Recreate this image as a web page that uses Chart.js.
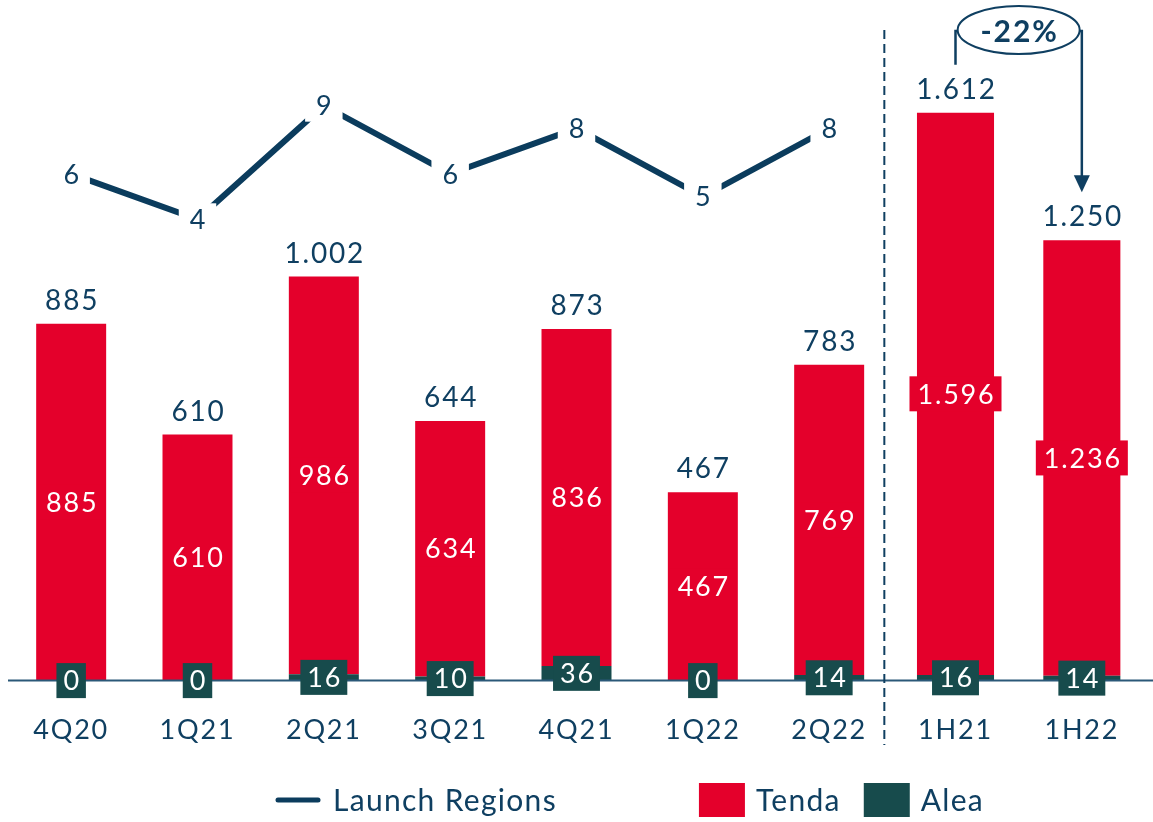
<!DOCTYPE html>
<html><head><meta charset="utf-8">
<script src="https://cdn.jsdelivr.net/npm/chart.js@4.4.1/dist/chart.umd.min.js"></script>
<style>html,body{margin:0;padding:0;background:#fff;}</style>
</head><body>
<canvas id="c" width="1153" height="822" style="display:block"></canvas>
<script>
// ---- data ----
const categories = ['4Q20','1Q21','2Q21','3Q21','4Q21','1Q22','2Q22','1H21','1H22'];
const tendaQuarter = [885, 610, 986, 634, 836, 467, 769, null, null];
const aleaQuarter  = [0, 0, 16, 10, 36, 0, 14, null, null];
const tendaHalf    = [null, null, null, null, null, null, null, 1596, 1236];
const aleaHalf     = [null, null, null, null, null, null, null, 16, 14];
const totals       = [885, 610, 1002, 644, 873, 467, 783, 1612, 1250];
const launchRegions = [6, 4, 9, 6, 8, 5, 8, null, null];
const seriesNames = ['Launch Regions', 'Tenda', 'Alea'];

// ---- styles ----
const RED = '#e4002b', TEAL = '#174b4c', BLUE = '#0f3f61', LINE = '#0b3c5d';
const FONT = 'Lato';
const SPACING = '1.8px';

function fmt(v) {
  const s = String(Math.abs(v));
  return (v < 0 ? '-' : '') + s.replace(/\B(?=(\d{3})+(?!\d))/g, '.');
}

const labelPlugin = {
  id: 'labels',
  beforeDraw(chart) { chart.ctx.letterSpacing = SPACING; },
  afterDatasetsDraw(chart) {
    const ctx = chart.ctx;
    const ca = chart.chartArea;
    const xs = chart.scales.x;
    const y0 = chart.scales.y.getPixelForValue(0);
    ctx.save();
    ctx.letterSpacing = SPACING;
    // baseline
    ctx.strokeStyle = '#2b5878';
    ctx.lineWidth = 2;
    ctx.beginPath(); ctx.moveTo(ca.left, y0); ctx.lineTo(chart.width, y0); ctx.stroke();
    // dashed divider
    const xd = (xs.getPixelForValue(6) + xs.getPixelForValue(7)) / 2 - 8;
    ctx.setLineDash([9, 5]);
    ctx.strokeStyle = BLUE; ctx.lineWidth = 2;
    ctx.beginPath(); ctx.moveTo(xd, 30); ctx.lineTo(xd, 745); ctx.stroke();
    ctx.setLineDash([]);

    ctx.textAlign = 'center';
    ctx.textBaseline = 'middle';
    const totalCenters = [];
    for (let i = 0; i < categories.length; i++) {
      const half = tendaQuarter[i] === null;
      const tMeta = chart.getDatasetMeta(half ? 3 : 1);
      const aMeta = chart.getDatasetMeta(half ? 4 : 2);
      const tEl = tMeta.data[i], aEl = aMeta.data[i];
      const tv = half ? tendaHalf[i] : tendaQuarter[i];
      const av = half ? aleaHalf[i] : aleaQuarter[i];
      // Tenda label with red box
      ctx.font = `27px ${FONT}`;
      let txt = fmt(tv);
      let w = ctx.measureText(txt).width + 14;
      let cy = (tEl.y + tEl.base) / 2;
      ctx.fillStyle = RED;
      ctx.fillRect(tEl.x - w / 2, cy - 17.5, w, 35);
      ctx.fillStyle = '#ffffff';
      ctx.fillText(txt, tEl.x + 1, cy + 1);
      // Alea label with teal box
      txt = fmt(av);
      w = ctx.measureText(txt).width + 12;
      cy = (aEl.y + aEl.base) / 2;
      ctx.fillStyle = TEAL;
      ctx.fillRect(aEl.x - w / 2, cy - 17.5, w, 35);
      ctx.fillStyle = '#ffffff';
      ctx.fillText(txt, aEl.x + 1, cy + 1);
      // Total label
      ctx.font = `28px ${FONT}`;
      ctx.fillStyle = BLUE;
      const tc = tEl.y - 23;
      totalCenters.push(tc);
      ctx.fillText(fmt(totals[i]), tEl.x + 1, tc);
    }
    // line labels with white gaps
    const lMeta = chart.getDatasetMeta(0);
    ctx.font = `27px ${FONT}`;
    lMeta.data.forEach((p, i) => {
      if (launchRegions[i] === null) return;
      const txt = String(launchRegions[i]);
      const w = ctx.measureText(txt).width + 20;
      ctx.fillStyle = '#ffffff';
      ctx.fillRect(p.x - w / 2, p.y - 16, w, 32);
      ctx.fillStyle = BLUE;
      ctx.fillText(txt, p.x + 1, p.y + 1);
    });
    // bracket annotation
    const e7 = chart.getDatasetMeta(3).data[7], e8 = chart.getDatasetMeta(3).data[8];
    const x1 = e7.x, x2 = e8.x;
    const topY = 31, cx = (x1 + x2) / 2, rx = 61, ry = 24;
    const yA = totalCenters[7] - 25, tip = totalCenters[8] - 25;
    ctx.strokeStyle = BLUE; ctx.lineWidth = 2.5; ctx.lineJoin = 'miter';
    ctx.beginPath();
    ctx.moveTo(x1, yA); ctx.lineTo(x1, topY); ctx.lineTo(cx - rx, topY);
    ctx.moveTo(cx + rx, topY); ctx.lineTo(x2, topY); ctx.lineTo(x2, tip - 14);
    ctx.stroke();
    ctx.fillStyle = BLUE;
    ctx.beginPath(); ctx.moveTo(x2 - 8, tip - 17); ctx.lineTo(x2 + 8, tip - 17); ctx.lineTo(x2, tip); ctx.closePath(); ctx.fill();
    ctx.lineWidth = 2;
    ctx.beginPath(); ctx.ellipse(cx, topY - 1, rx, ry, 0, 0, Math.PI * 2); ctx.stroke();
    const pct = Math.round((totals[8] - totals[7]) / totals[7] * 100);
    ctx.font = `bold 30px ${FONT}`;
    ctx.letterSpacing = '2px';
    ctx.fillStyle = BLUE;
    ctx.fillText((pct < 0 ? '-' : '+') + Math.abs(pct) + '%', cx + 1, topY + 1);
    ctx.letterSpacing = SPACING;

    // legend
    const ly = 801;
    ctx.font = `30px ${FONT}`;
    ctx.letterSpacing = '1.3px';
    ctx.textAlign = 'left';
    let lx = 276;
    ctx.strokeStyle = LINE; ctx.lineWidth = 5; ctx.lineCap = 'round';
    ctx.beginPath(); ctx.moveTo(lx + 2, ly - 1); ctx.lineTo(lx + 42, ly - 1); ctx.stroke();
    lx += 57;
    ctx.fillStyle = BLUE;
    ctx.fillText(seriesNames[0], lx, ly);
    lx += ctx.measureText(seriesNames[0]).width + 142;
    ctx.fillStyle = RED; ctx.fillRect(lx, 783, 46, 34); lx += 57;
    ctx.fillStyle = BLUE; ctx.fillText(seriesNames[1], lx, ly);
    lx += ctx.measureText(seriesNames[1]).width + 23;
    ctx.fillStyle = TEAL; ctx.fillRect(lx, 783, 46, 34); lx += 57;
    ctx.fillStyle = BLUE; ctx.fillText(seriesNames[2], lx, ly);
    ctx.restore();
  }
};

new Chart(document.getElementById('c'), {
  data: {
    labels: categories,
    datasets: [
      { type: 'line', label: seriesNames[0], data: launchRegions, yAxisID: 'y3',
        borderColor: LINE, borderWidth: 6, pointRadius: 0, tension: 0, spanGaps: false, order: 0 },
      { type: 'bar', label: seriesNames[1] + ' Q', data: tendaQuarter, yAxisID: 'y', backgroundColor: RED,
        stack: 's', barPercentage: 0.554, categoryPercentage: 1, order: 2 },
      { type: 'bar', label: seriesNames[2] + ' Q', data: aleaQuarter, yAxisID: 'y', backgroundColor: TEAL,
        stack: 's', barPercentage: 0.554, categoryPercentage: 1, order: 1 },
      { type: 'bar', label: seriesNames[1] + ' H', data: tendaHalf, yAxisID: 'y2', backgroundColor: RED,
        stack: 's', barPercentage: 0.61, categoryPercentage: 1, order: 2 },
      { type: 'bar', label: seriesNames[2] + ' H', data: aleaHalf, yAxisID: 'y2', backgroundColor: TEAL,
        stack: 's', barPercentage: 0.61, categoryPercentage: 1, order: 1 }
    ]
  },
  options: {
    responsive: false,
    animation: false,
    devicePixelRatio: 1,
    layout: { padding: { left: 8, right: 8, top: 20, bottom: 43 } },
    plugins: { legend: { display: false }, tooltip: { enabled: false } },
    scales: {
      x: { stacked: true, offset: true, grid: { display: false, drawTicks: false }, border: { display: false },
           ticks: { font: { family: FONT, size: 27 }, color: BLUE, padding: 33, maxRotation: 0, autoSkip: false } },
      y: { stacked: true, display: false, min: 0, max: 1638 },
      y2: { stacked: true, display: false, min: 0, max: 1875 },
      y3: { display: false, min: -16.3, max: 12.77 }
    }
  },
  plugins: [labelPlugin]
});
</script>
</body></html>
